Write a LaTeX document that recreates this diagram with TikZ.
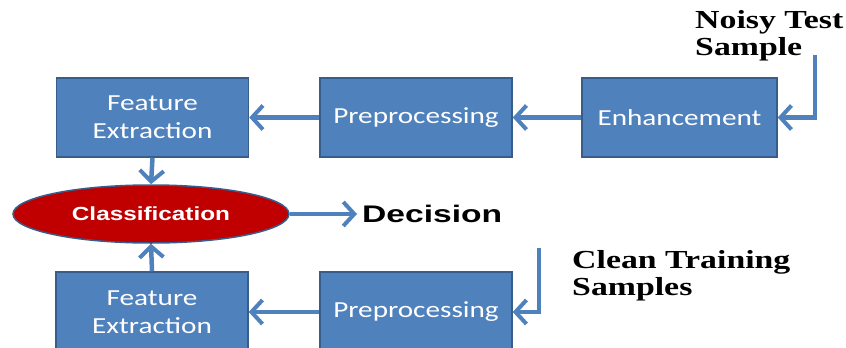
\documentclass[tikz,border=0pt]{standalone}
\usepackage{fontspec}
\usetikzlibrary{arrows.meta,shapes.geometric}
\newfontfamily\boxfont[FakeStretch=1.27]{Carlito}
\newfontfamily\clsfont[FakeStretch=1.28]{Liberation Sans}
\newfontfamily\decfont[FakeStretch=1.4]{Liberation Sans}
\newfontfamily\labfont[FakeStretch=1.3]{Liberation Serif}
\definecolor{boxblue}{HTML}{4F81BD}
\definecolor{boxedge}{HTML}{385D8A}
\definecolor{clsred}{HTML}{C00000}
\tikzset{
  stagebox/.style={draw=boxedge, line width=1.5pt, fill=boxblue, text=white,
    minimum width=192pt, minimum height=79pt, align=center, inner sep=0pt,
    font=\boxfont\fontsize{23}{28}\selectfont},
  flow/.style={draw=boxblue, line width=4.5pt,
    -{Straight Barb[length=11pt,width=24pt,line width=4pt]}},
  lab/.style={font=\labfont\bfseries\fontsize{26}{27}\selectfont, align=left, inner sep=0pt}
}
\begin{document}
\begin{tikzpicture}[x=1pt,y=-1pt]
\useasboundingbox (0,0) rectangle (846,348);
\node[stagebox] (fe1) at (152.5,117.5) {Feature\\Extraction};
\node[stagebox] (pp1) at (416,117.5) {Preprocessing};
\node[stagebox, minimum width=195pt] (en) at (679.5,117.5) {Enhancement};
\node[stagebox, minimum height=80pt] (fe2) at (152,312) {Feature\\Extraction};
\node[stagebox, minimum height=80pt] (pp2) at (416,312) {Preprocessing};
\node[ellipse, draw=boxedge, line width=1.5pt, fill=clsred, text=white,
  minimum width=276pt, minimum height=58pt, inner sep=0pt,
  font=\clsfont\bfseries\fontsize{19}{22}\selectfont] (cl) at (151,214) {Classification};
\node[anchor=west, inner xsep=5pt, inner ysep=0pt, font=\decfont\bfseries\fontsize{24}{26}\selectfont] (dec) at (357,214) {Decision};
\node[lab, anchor=north west] (noisy) at (695,10) {Noisy Test\\Sample};
\node[lab, anchor=north west] (clean) at (572,250) {Clean Training\\Samples};
\coordinate (n0) at (815,55);
\coordinate (c0) at (539,248);
\draw[flow] (n0) |- (en.east);
\draw[flow] (en.west) -- (pp1.east);
\draw[flow] (pp1.west) -- (fe1.east);
\draw[flow] (fe1.south) -- (cl.north);
\draw[flow] (fe2.north) -- (cl.south);
\draw[flow] (c0) |- (pp2.east);
\draw[flow] (pp2.west) -- (fe2.east);
\draw[flow] (cl.east) -- (dec.west);
\end{tikzpicture}
\end{document}
